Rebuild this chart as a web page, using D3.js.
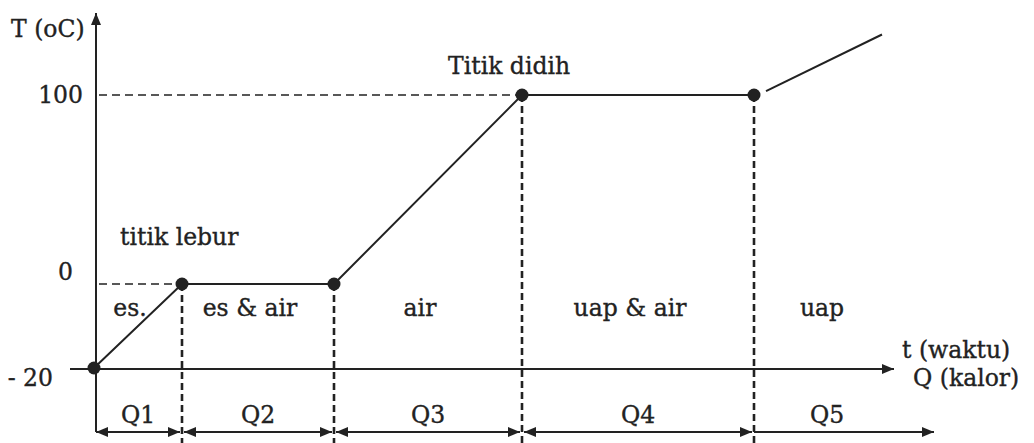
<!DOCTYPE html>
<html>
<head>
<meta charset="utf-8">
<script src="https://cdn.jsdelivr.net/npm/d3@7"></script>
<style>
  body { margin: 0; background: #fff; }
  svg text { font-family: "DejaVu Serif", serif; font-size: 23.5px; fill: #222; stroke: #222; stroke-width: 0.35px; }
</style>
</head>
<body>
<svg id="chart" width="1034" height="443"></svg>
<script>
// heating curve of water (schematic): time units vs temperature
const curveTimes = [0, 2.2, 6, 10.7, 16.5];
const curveTemps = [-20, 0, 0, 100, 100];
// steam part after boiling (drawn apart from the last dot)
const steamTimes = [16.8, 19.7];
const steamTemps = [102, 132];

const tempTicks = [100, 0, -20];
const tempTickLabels = ['100', '0', '- 20'];

const phaseLabels = ['es.', 'es & air', 'air', 'uap & air', 'uap'];
const heatLabels = ['Q1', 'Q2', 'Q3', 'Q4', 'Q5'];
const heatEnd = 21.05; // end of the Q5 arrow

const svg = d3.select('#chart');
const ink = '#222';

// x: time, y: piecewise (the drawing is not to scale)
const x = d3.scaleLinear().domain([0, 20]).range([94, 894]);
const y = d3.scaleLinear().domain([-20, 0, 100]).range([368, 284, 95]);

const defs = svg.append('defs');
defs.append('marker')
    .attr('id', 'arrow')
    .attr('viewBox', '0 0 12 10')
    .attr('refX', 12).attr('refY', 5)
    .attr('markerWidth', 12).attr('markerHeight', 10)
    .attr('markerUnits', 'userSpaceOnUse')
    .attr('orient', 'auto-start-reverse')
    .append('path')
    .attr('d', 'M0,0 L12,5 L0,10 Z')
    .attr('fill', ink);

const axisX0 = 96;
const baseY = y(-20);
const arrowRowY = 432;

// y axis
svg.append('line')
    .attr('x1', axisX0).attr('x2', axisX0)
    .attr('y1', arrowRowY).attr('y2', 13)
    .attr('stroke', ink).attr('stroke-width', 2)
    .attr('marker-end', 'url(#arrow)');

// x axis (t / Q)
svg.append('line')
    .attr('x1', 70).attr('x2', x(20))
    .attr('y1', baseY + 1).attr('y2', baseY + 1)
    .attr('stroke', ink).attr('stroke-width', 1.8)
    .attr('marker-end', 'url(#arrow)');

// temperature labels (placed loosely, like the hand-set original)
const labelRight = [83, 73, 53];
const labelNudge = [0, -12, 10];
svg.selectAll('.ytick')
    .data(tempTicks)
    .enter()
    .append('text')
    .attr('class', 'ytick')
    .attr('x', (d, i) => labelRight[i])
    .attr('y', (d, i) => y(d) + labelNudge[i])
    .attr('dy', '0.35em')
    .attr('text-anchor', 'end')
    .text((d, i) => tempTickLabels[i]);

svg.append('text').attr('x', 11).attr('y', 37).text('T (oC)');
svg.append('text').attr('x', 902).attr('y', 358).text('t (waktu)');
svg.append('text').attr('x', 913).attr('y', 386).text('Q (kalor)');

// horizontal guides at 0 and 100
[1, 3].forEach(i => {
    svg.append('line')
        .attr('x1', axisX0 + 3).attr('x2', x(curveTimes[i]))
        .attr('y1', y(curveTemps[i])).attr('y2', y(curveTemps[i]))
        .attr('stroke', ink).attr('stroke-width', 1.5)
        .attr('stroke-dasharray', '8,5');
});

// vertical guides at each change of phase
curveTimes.slice(1).forEach((t, i) => {
    svg.append('line')
        .attr('x1', x(t)).attr('x2', x(t))
        .attr('y1', y(curveTemps[i + 1])).attr('y2', 443)
        .attr('stroke', ink).attr('stroke-width', 2.6)
        .attr('stroke-dasharray', '7,4');
});

// the heating curve
const line = d3.line().x(d => x(d[0])).y(d => y(d[1]));
svg.append('path')
    .datum(d3.zip(curveTimes, curveTemps))
    .attr('d', line)
    .attr('fill', 'none').attr('stroke', ink).attr('stroke-width', 2);
svg.append('path')
    .datum(d3.zip(steamTimes, steamTemps))
    .attr('d', line)
    .attr('fill', 'none').attr('stroke', ink).attr('stroke-width', 2);

svg.selectAll('.dot')
    .data(d3.zip(curveTimes, curveTemps))
    .enter()
    .append('circle')
    .attr('class', 'dot')
    .attr('cx', d => x(d[0]))
    .attr('cy', d => y(d[1]))
    .attr('r', 6.5)
    .attr('fill', ink);

svg.append('text').attr('x', 120).attr('y', 245).text('titik lebur');
svg.append('text').attr('x', 448).attr('y', 74).text('Titik didih');

// phase names inside each section
const bounds = curveTimes.concat([20.3]);
svg.selectAll('.phase')
    .data(phaseLabels)
    .enter()
    .append('text')
    .attr('class', 'phase')
    .attr('x', (d, i) => i === 0 ? 130 : (x(bounds[i]) + x(bounds[i + 1])) / 2 - 8)
    .attr('y', 316)
    .attr('text-anchor', 'middle')
    .text(d => d);

// heat arrows along the bottom
const heatBounds = curveTimes.concat([heatEnd]);
heatLabels.forEach((q, i) => {
    const a = x(heatBounds[i]), b = x(heatBounds[i + 1]);
    const last = i === heatLabels.length - 1;
    svg.append('line')
        .attr('x1', last ? a : a + (i === 0 ? 2 : 2)).attr('x2', b - 2)
        .attr('y1', arrowRowY).attr('y2', arrowRowY)
        .attr('stroke', ink).attr('stroke-width', 1.8)
        .attr('marker-start', last ? null : 'url(#arrow)')
        .attr('marker-end', 'url(#arrow)');
    svg.append('text')
        .attr('x', last ? (a + b) / 2 - 18 : (a + b) / 2)
        .attr('y', 423)
        .attr('text-anchor', 'middle')
        .text(q);
});
</script>
</body>
</html>
